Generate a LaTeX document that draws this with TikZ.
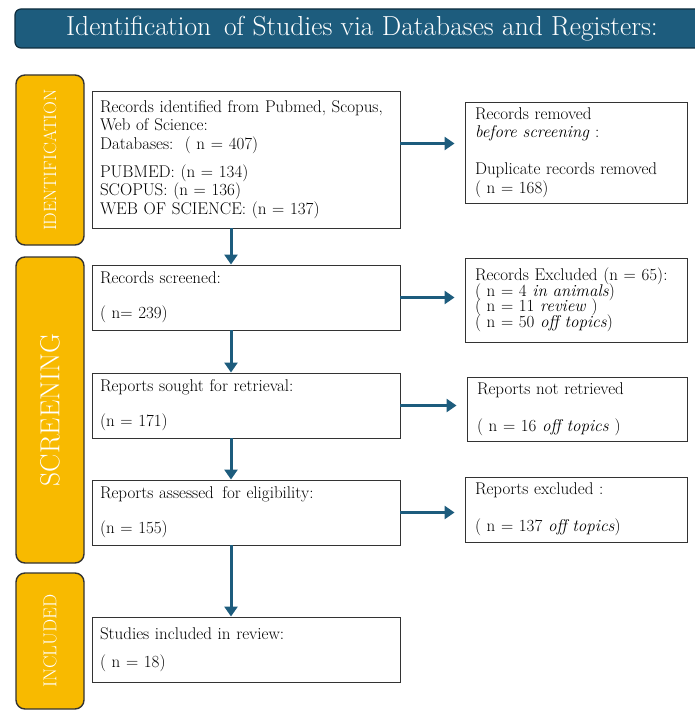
\documentclass[tikz,border=0pt]{standalone}
\usetikzlibrary{arrows.meta}

\definecolor{prismablue}{RGB}{29,92,125}
\definecolor{prismadark}{RGB}{14,45,62}
\definecolor{phasegold}{RGB}{248,186,0}

\newcommand\tightlines{\fontsize{17}{15.5}\selectfont\lineskiplimit=-5pt\relax}

\tikzset{
  titlebar/.style={draw=prismadark, line width=1.2pt, fill=prismablue, rounded corners=6pt,
    text=white, font=\fontsize{27.5}{30}\selectfont},
  phase/.style={draw=black!80, line width=1.4pt, fill=phasegold, rounded corners=9pt,
    rotate=90, minimum height=68pt, text=white},
  box/.style={draw=black!80, line width=0.9pt, align=left, inner xsep=8pt, inner ysep=3pt,
    font=\fontsize{17}{18.5}\selectfont},
  flow/.style={draw=prismablue, line width=3pt, -{Triangle[length=10pt,width=13pt]}}
}

\begin{document}
\begin{tikzpicture}[x=1pt, y=-1pt]

\useasboundingbox (0,0) rectangle (694,711);

% Title
\node[titlebar, minimum width=694pt, minimum height=39pt] (title) at (362,28.5)
  {Identification\, of Studies via Databases and Registers:};

% Phases
\node[phase, minimum width=170pt, font=\fontsize{17.8}{18}\selectfont] (ident) at (50,160) {IDENTIFICATION};
\node[phase, minimum width=306pt, font=\fontsize{27.5}{28}\selectfont] (screen) at (50,410) {SCREENING};
\node[phase, minimum width=136pt, font=\fontsize{18.6}{19}\selectfont] (incl) at (50,641) {INCLUDED};

% Main boxes
\node[box, text width=292pt, minimum height=137pt] (b1) at (246,159.5)
  {Records identified from Pubmed, Scopus,\\
   Web of Science:\\
   Databases:~~( n = 407)\\[9.5pt]
   PUBMED: (n = 134)\\
   SCOPUS: (n = 136)\\
   WEB OF SCIENCE: (n = 137)};
\node[box, text width=292pt, minimum height=65pt] (b2) at (246,297.5)
  {Records screened:\\[16.5pt]
   ( n= 239)};
\node[box, text width=292pt, minimum height=65pt] (b3) at (246,405.5)
  {Reports sought for retrieval:\\[16.5pt]
   (n = 171)};
\node[box, text width=292pt, minimum height=65pt] (b4) at (246,512.5)
  {Reports assessed\, for eligibility:\\[16.5pt]
   (n = 155)};
\node[box, text width=292pt, minimum height=65pt] (b5) at (246,649.5)
  {Studies included in review:\\[9.5pt]
   ( n = 18)};

% Side boxes
\node[box, inner xsep=10pt, text width=202pt, minimum height=101pt] (r1) at (576,152.5)
  {Records removed\\
   \textit{before screening} :\\[18.5pt]
   Duplicate records removed\\
   ( n = 168)};
\node[box, inner xsep=10pt, text width=202pt, minimum height=84pt, font=\tightlines] (r2) at (576,300)
  {Records Excluded (n = 65):\\
   ( n = 4 \textit{in animals})\\
   ( n = 11 \textit{review} )\\
   ( n = 50 \textit{off topics})};
\node[box, inner xsep=10pt, text width=200pt, minimum height=64pt] (r3) at (577,409)
  {Reports not retrieved\\[18.5pt]
   ( n = 16 \textit{off topics} )};
\node[box, inner xsep=10pt, text width=202pt, minimum height=65pt] (r4) at (576,509.5)
  {Reports excluded :\\[18.5pt]
   ( n = 137 \textit{off topics})};

% Arrows
\coordinate (a1) at ([yshift=16pt]b1.east);
\draw[flow, shorten >=10pt] (a1) -- (a1 -| r1.west);
\foreach \m/\r in {b2/r2, b3/r3, b4/r4}
  \draw[flow, shorten >=10pt] (\m.east) -- (\m.east -| \r.west);

\foreach \u/\v in {b1/b2, b2/b3, b3/b4, b4/b5}
  \draw[flow] ([xshift=-15pt]\u.south) -- ([xshift=-15pt]\v.north);

\end{tikzpicture}
\end{document}
